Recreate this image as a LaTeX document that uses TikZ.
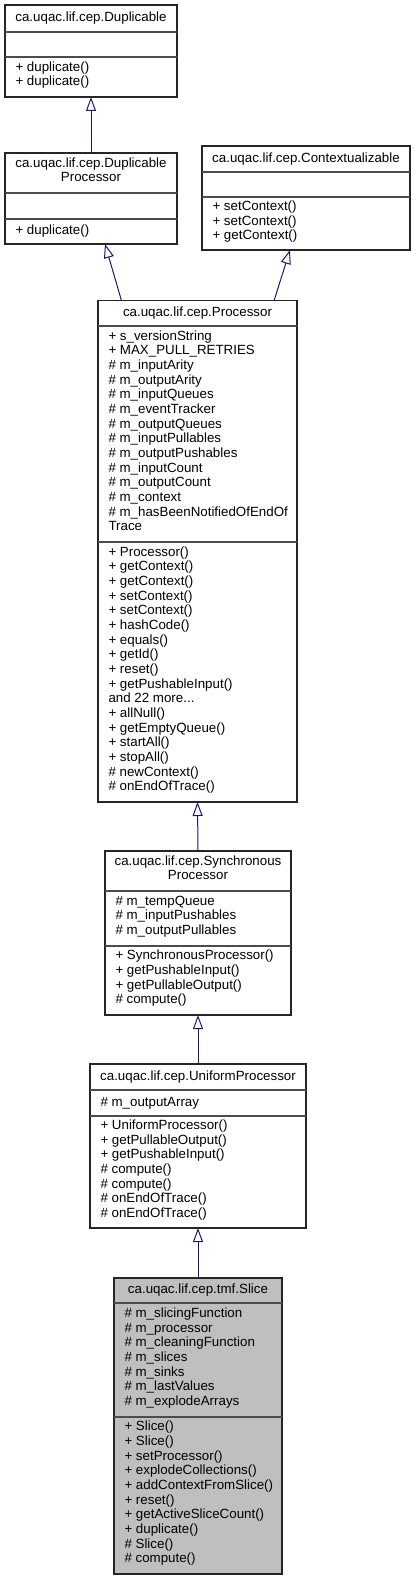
\documentclass[tikz,border=0pt]{standalone}
\usepackage{fontspec}
\setmainfont{Liberation Sans}
\usepackage{xcolor}
\usepackage{tikz}
\usetikzlibrary{arrows.meta, positioning, fit}
\definecolor{edgeblue}{RGB}{25,25,112}
\definecolor{slicegray}{RGB}{191,191,191}

\begin{document}
\begin{tikzpicture}[
    x=0.75pt, y=-0.75pt,
    classbox/.style={rectangle, draw=black!85, line width=0.8pt, inner sep=0pt, outer sep=0pt, fill=white},
    divider/.style={draw=black!70, line width=0.8pt},
    title/.style={anchor=north, inner sep=0pt, outer sep=0pt, align=center, font=\fontsize{10}{11}\selectfont, execute at begin node={\rule{0pt}{8.5pt}}},
    members/.style={anchor=north west, inner sep=0pt, outer sep=0pt, align=left, font=\fontsize{10}{11}\selectfont, execute at begin node={\rule{0pt}{8.5pt}}},
    inherit/.style={-{Triangle[open, length=10.5pt, width=7.5pt]}, draw=edgeblue, line width=0.75pt}
  ]
    \path[use as bounding box, fill=white] (0,0) rectangle (415,1580);

    % Duplicable
    \node[classbox, fit={(5,5) (177,97)}] (dup) {};
    \draw[divider] (5,32) -- (177,32);
    \draw[divider] (5,57) -- (177,57);
    \node[title] (dup-title) at (91,10.3) {ca.uqac.lif.cep.Duplicable};
    \node[members] (dup-ops) at (15.5,61.5) {+ duplicate()\\+ duplicate()};

    % Duplicable Processor
    \node[classbox, fit={(5,153) (177,244)}] (dupproc) {};
    \draw[divider] (5,193) -- (177,193);
    \draw[divider] (5,219) -- (177,219);
    \node[title] (dupproc-title) at (91,157.5) {ca.uqac.lif.cep.Duplicable\\Processor};
    \node[members] (dupproc-ops) at (15.5,223.3) {+ duplicate()};

    % Contextualizable
    \node[classbox, fit={(202,146) (410,250)}] (ctx) {};
    \draw[divider] (202,172) -- (410,172);
    \draw[divider] (202,197) -- (410,197);
    \node[title] (ctx-title) at (306,150.8) {ca.uqac.lif.cep.Contextualizable};
    \node[members] (ctx-ops) at (212.5,200.7) {+ setContext()\\+ setContext()\\+ getContext()};

    % Processor
    \node[classbox, fit={(98,300.7) (297,802)}] (proc) {};
    \draw[divider] (98,326) -- (297,326);
    \draw[divider] (98,542) -- (297,542);
    \node[title] (proc-title) at (197.5,305.2) {ca.uqac.lif.cep.Processor};
    \node[members] (proc-attrs) at (108.5,330.5) {+ s\_versionString\\+ MAX\_PULL\_RETRIES\\\# m\_inputArity\\\# m\_outputArity\\\# m\_inputQueues\\\# m\_eventTracker\\\# m\_outputQueues\\\# m\_inputPullables\\\# m\_outputPushables\\\# m\_inputCount\\\# m\_outputCount\\\# m\_context\\\# m\_hasBeenNotifiedOfEndOf\\Trace};
    \node[members] (proc-ops) at (108.5,546.5) {+ Processor()\\+ getContext()\\+ getContext()\\+ setContext()\\+ setContext()\\+ hashCode()\\+ equals()\\+ getId()\\+ reset()\\+ getPushableInput()\\and 22 more...\\+ allNull()\\+ getEmptyQueue()\\+ startAll()\\+ stopAll()\\\# newContext()\\\# onEndOfTrace()};

    % Synchronous Processor
    \node[classbox, fit={(105,851) (291,1015)}] (sync) {};
    \draw[divider] (105,891) -- (291,891);
    \draw[divider] (105,946) -- (291,946);
    \node[title] (sync-title) at (198,855.5) {ca.uqac.lif.cep.Synchronous\\Processor};
    \node[members] (sync-attrs) at (115.5,895.7) {\# m\_tempQueue\\\# m\_inputPushables\\\# m\_outputPullables};
    \node[members] (sync-ops) at (115.5,950.3) {+ SynchronousProcessor()\\+ getPushableInput()\\+ getPullableOutput()\\\# compute()};

    % Uniform Processor
    \node[classbox, fit={(90,1064) (306,1228)}] (unif) {};
    \draw[divider] (90,1090) -- (306,1090);
    \draw[divider] (90,1116) -- (306,1116);
    \node[title] (unif-title) at (198,1068.8) {ca.uqac.lif.cep.UniformProcessor};
    \node[members] (unif-attrs) at (100.5,1094.8) {\# m\_outputArray};
    \node[members] (unif-ops) at (100.5,1119.8) {+ UniformProcessor()\\+ getPullableOutput()\\+ getPushableInput()\\\# compute()\\\# compute()\\\# onEndOfTrace()\\\# onEndOfTrace()};

    % Slice
    \node[classbox, fill=slicegray, fit={(114,1278) (282,1574)}] (slice) {};
    \draw[divider] (114,1303) -- (282,1303);
    \draw[divider] (114,1417) -- (282,1417);
    \node[title] (slice-title) at (198,1282.3) {ca.uqac.lif.cep.tmf.Slice};
    \node[members] (slice-attrs) at (124.5,1307.8) {\# m\_slicingFunction\\\# m\_processor\\\# m\_cleaningFunction\\\# m\_slices\\\# m\_sinks\\\# m\_lastValues\\\# m\_explodeArrays};
    \node[members] (slice-ops) at (124.5,1421.3) {+ Slice()\\+ Slice()\\+ setProcessor()\\+ explodeCollections()\\+ addContextFromSlice()\\+ reset()\\+ getActiveSliceCount()\\+ duplicate()\\\# Slice()\\\# compute()};

    % Inheritance
    \draw[inherit] (dupproc.north) -- (dup.south);
    \draw[inherit] ([xshift=-57pt]proc.north) -- ([xshift=10.5pt]dupproc.south);
    \draw[inherit] ([xshift=57.4pt]proc.north) -- ([xshift=-12pt]ctx.south);
    \draw[inherit] (sync.north) -- (proc.south);
    \draw[inherit] (unif.north) -- (sync.south);
    \draw[inherit] (slice.north) -- (unif.south);

  \end{tikzpicture}
\end{document}
